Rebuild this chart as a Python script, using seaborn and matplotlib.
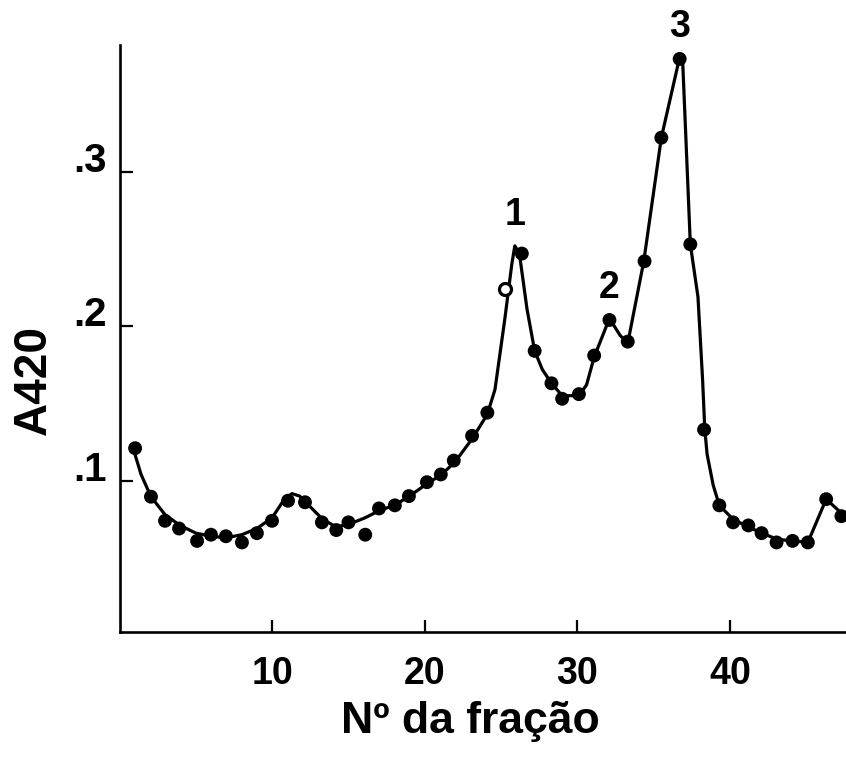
import matplotlib
matplotlib.use("Agg")
import matplotlib.pyplot as plt
import seaborn as sns
import numpy as np
import pandas as pd

# ---------------- data ----------------
frac = [1.02, 2.06, 2.98, 3.90, 5.08, 5.99, 6.97, 8.02, 9.0, 9.99,
        11.04, 12.15, 13.26, 14.2, 15.0, 16.1, 17.0, 18.04, 18.96, 20.14,
        21.05, 21.9, 23.1, 24.1, 26.36, 27.2, 28.3, 29.0, 30.1, 31.1,
        32.1, 33.3, 34.4, 35.5, 36.7, 37.4, 38.3, 39.3, 40.2, 41.2,
        42.07, 43.05, 44.1, 45.1, 46.3, 47.3]
absorb = [0.121, 0.0896, 0.074, 0.069, 0.061, 0.065, 0.064, 0.060, 0.066, 0.074,
          0.087, 0.086, 0.073, 0.068, 0.073, 0.065, 0.082, 0.084, 0.090, 0.099,
          0.104, 0.113, 0.129, 0.144, 0.247, 0.184, 0.163, 0.153, 0.156, 0.181,
          0.204, 0.190, 0.242, 0.322, 0.373, 0.253, 0.133, 0.084, 0.073, 0.071,
          0.066, 0.060, 0.061, 0.060, 0.088, 0.077]

open_frac = [25.25]
open_absorb = [0.224]

curve_x = [0.95, 1.41, 2.06, 2.98, 3.96, 5.01, 5.99, 6.97, 8.02, 9.0,
           10.0, 10.8, 11.3, 11.8, 12.5, 13.3, 14.2, 15.1, 16.1, 17.1,
           18.0, 19.0, 20.0, 21.1, 21.97, 23.1, 24.1, 24.6, 25.25, 25.7,
           25.9, 26.2, 26.7, 27.2, 27.7, 28.3, 29.0, 30.1, 30.6, 31.1,
           32.1, 32.8, 33.3, 34.35, 35.5, 36.7, 36.9, 37.4, 37.9, 38.2,
           38.35, 38.5, 38.9, 39.3, 40.2, 41.2, 42.1, 43.1, 44.1, 45.1,
           46.3, 47.3, 47.8]
curve_y = [0.119, 0.104, 0.0896, 0.078, 0.071, 0.066, 0.064, 0.063, 0.065, 0.069,
           0.076, 0.088, 0.0916, 0.090, 0.083, 0.075, 0.070, 0.072, 0.076, 0.081,
           0.084, 0.090, 0.097, 0.104, 0.112, 0.127, 0.143, 0.159, 0.205, 0.240,
           0.252, 0.247, 0.211, 0.184, 0.172, 0.163, 0.155, 0.155, 0.162, 0.180,
           0.205, 0.194, 0.189, 0.242, 0.322, 0.374, 0.371, 0.253, 0.219, 0.166,
           0.133, 0.117, 0.097, 0.084, 0.075, 0.070, 0.066, 0.062, 0.061, 0.060,
           0.088, 0.079, 0.075]

peak_names = ["1", "2", "3"]
peak_x = [25.9, 32.1, 36.7]
peak_y = [0.252, 0.205, 0.374]

y_ticks = [0.1, 0.2, 0.3]
y_ticklabels = [".1", ".2", ".3"]
x_ticks = [10, 20, 30, 40]
x_ticklabels = ["10", "20", "30", "40"]

x_title = "Nº da fração"
y_title = "A420"

# ---------------- style ----------------
sns.set_theme(style="white")
plt.rcParams["font.family"] = ["Liberation Sans", "DejaVu Sans"]
plt.rcParams["font.weight"] = "bold"
plt.rcParams["text.color"] = "black"
plt.rcParams["axes.labelcolor"] = "black"

fig = plt.figure(figsize=(8.46, 7.58), dpi=100)
ax = fig.add_axes([0.1413, 0.1662, 0.8587, 0.7744])

pts = pd.DataFrame({"frac": frac, "A": absorb})
crv = pd.DataFrame({"frac": curve_x, "A": curve_y})
opn = pd.DataFrame({"frac": open_frac, "A": open_absorb})

sns.lineplot(data=crv, x="frac", y="A", sort=False, estimator=None,
             color="black", linewidth=2.3, ax=ax, zorder=2)
sns.scatterplot(data=pts, x="frac", y="A", color="black", s=100,
                edgecolor="none", ax=ax, zorder=3, clip_on=False)
sns.scatterplot(data=opn, x="frac", y="A", color="white", s=75,
                edgecolor="black", linewidth=2.3, ax=ax, zorder=3)

ax.set_xlim(0, 47.6)
ax.set_ylim(0.002, 0.382)

for s in ["top", "right"]:
    ax.spines[s].set_visible(False)
for s in ["left", "bottom"]:
    ax.spines[s].set_linewidth(1.9)
    ax.spines[s].set_color("black")

ax.set_xticks(x_ticks, labels=x_ticklabels)
ax.set_yticks(y_ticks, labels=y_ticklabels)
ax.tick_params(axis="both", direction="in", length=9, width=1.6,
               colors="black", bottom=True, left=True)
ax.tick_params(axis="x", pad=17, labelsize=27)
ax.tick_params(axis="y", pad=9, labelsize=29)
for t in ax.get_xticklabels() + ax.get_yticklabels():
    t.set_fontweight("bold")
for t in ax.get_yticklabels():
    t.set_va("baseline")

ax.set_xlabel(x_title, fontsize=32, fontweight="bold", va="center", color="black")
ax.xaxis.set_label_coords(0.4825, -0.153)
ax.set_ylabel(y_title, fontsize=33, fontweight="bold", va="center", color="black")
ax.yaxis.set_label_coords(-0.1177, 0.429)

for name, px, py in zip(peak_names, peak_x, peak_y):
    ax.annotate(name, xy=(px, py), xytext=(0, 22), textcoords="offset points",
                ha="center", va="center", fontsize=27, fontweight="bold",
                color="black", annotation_clip=False)

fig.savefig("out.png", dpi=100, facecolor="white")
